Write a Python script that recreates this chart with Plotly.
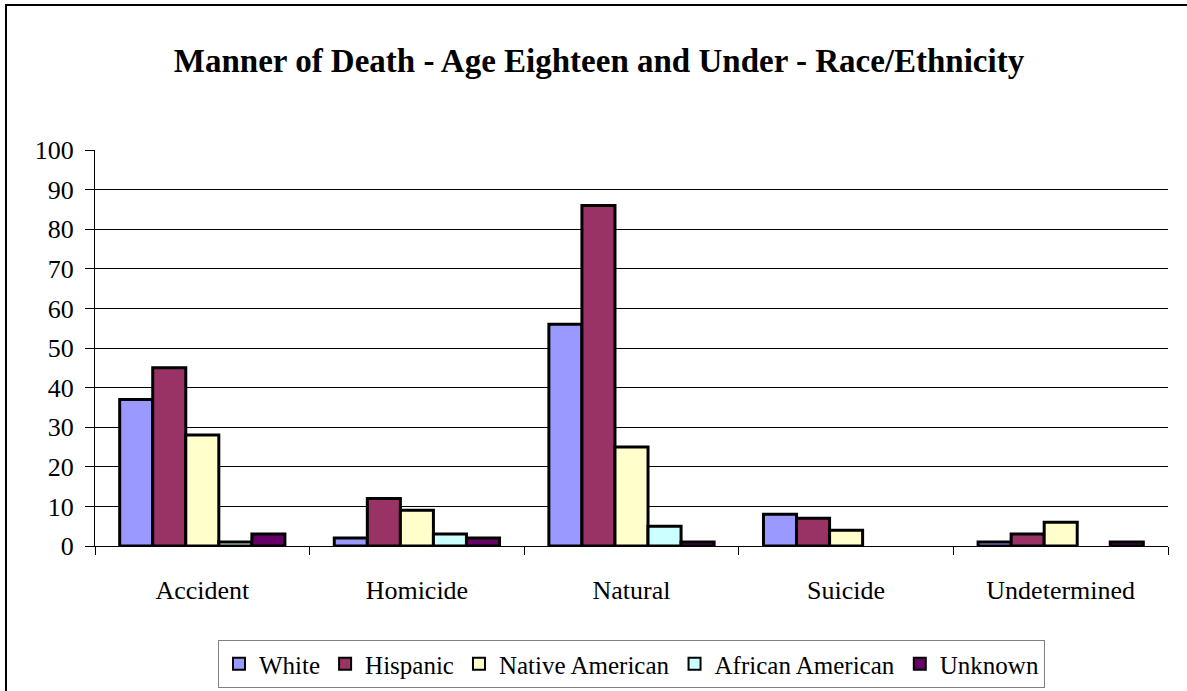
import plotly.graph_objects as go

categories = ["Accident", "Homicide", "Natural", "Suicide", "Undetermined"]
series_names = ["White", "Hispanic", "Native American", "African American", "Unknown"]
white = [37, 2, 56, 8, 1]
hispanic = [45, 12, 86, 7, 3]
native_american = [28, 9, 25, 4, 6]
african_american = [1, 3, 5, None, None]
unknown = [3, 2, 1, None, 1]
y_ticks = [0, 10, 20, 30, 40, 50, 60, 70, 80, 90, 100]

series_values = [white, hispanic, native_american, african_american, unknown]
colors = ["#9999FF", "#993366", "#FFFFCC", "#CCFFFF", "#660066"]

W, H = 1187, 691
L, R, T, B = 95, 1168, 150, 546
pw, ph = R - L, B - T

fig = go.Figure()
for name, vals, col in zip(series_names, series_values, colors):
    fig.add_trace(go.Bar(
        x=categories, y=vals, name=name,
        marker=dict(color=col, line=dict(color="black", width=3)),
    ))

font_family = "Liberation Serif, Times New Roman, serif"

fig.update_layout(
    width=W, height=H,
    margin=dict(l=L, r=W - R, t=T, b=H - B, pad=0, autoexpand=False),
    paper_bgcolor="white", plot_bgcolor="white",
    barmode="group", bargap=0.23, bargroupgap=0,
    font=dict(family=font_family, size=26, color="black"),
    title=dict(
        text="<b>Manner of Death - Age Eighteen and Under - Race/Ethnicity</b>",
        x=(599 - L) / pw, xref="paper", xanchor="center",
        y=1 - 60 / H, yanchor="middle",
        font=dict(family=font_family, size=33, color="black"),
    ),
    legend=dict(
        orientation="h", x=0.5, xanchor="center",
        y=(B - 640) / ph, yanchor="top",
        bordercolor="#808080", borderwidth=1,
        font=dict(family=font_family, size=25, color="black"),
        itemsizing="constant", tracegroupgap=0,
        itemwidth=30,
    ),
    xaxis=dict(
        showgrid=False, showline=True, linecolor="black", linewidth=1,
        ticks="outside", tickson="boundaries", ticklen=8, tickcolor="black",
        tickfont=dict(family=font_family, size=26, color="black"),
        ticklabelstandoff=21,
    ),
    yaxis=dict(
        range=[0, 100], tickvals=y_ticks, showgrid=True, gridcolor="black", gridwidth=1,
        showline=True, linecolor="black", linewidth=1,
        ticks="outside", ticklen=9, tickcolor="black",
        tickfont=dict(family=font_family, size=26, color="black"),
        ticklabelstandoff=6,
        zeroline=False, fixedrange=True,
    ),
    shapes=[dict(
        type="rect", xref="paper", yref="paper",
        x0=(6 - L) / pw, x1=(W + 20 - L) / pw,
        y0=(B - (H + 20)) / ph, y1=(B - 5) / ph,
        line=dict(color="black", width=2), fillcolor="rgba(0,0,0,0)", layer="below",
    )],
)

fig.write_html(
    "out.html",
    config={"displayModeBar": False},
    post_script="document.body.style.margin='0';document.body.style.overflow='hidden';",
)
